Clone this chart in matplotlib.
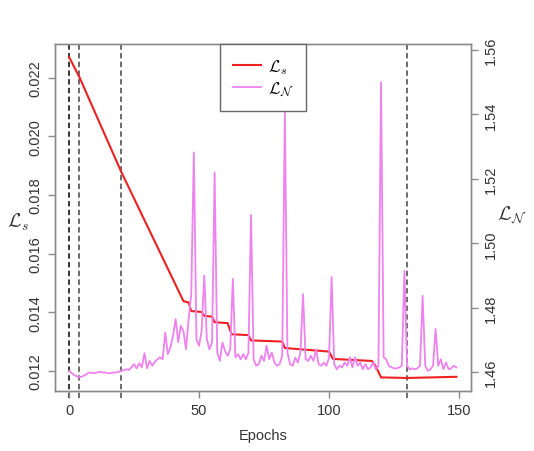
import numpy as np
import matplotlib
matplotlib.use("Agg")
import matplotlib.pyplot as plt

plt.rcParams["font.family"] = ["Liberation Sans", "DejaVu Sans"]
plt.rcParams["mathtext.fontset"] = "cm"

# L_s: knots (epoch, value)
ls_epochs = [0, 4, 20, 44, 46, 47, 51, 52, 55, 56, 61, 62.5, 69, 70, 82, 83,
             100, 101.5, 116.5, 118, 120, 130, 149]
ls_values = [0.02270, 0.02201, 0.01880, 0.01438, 0.01433, 0.01404, 0.01401,
             0.01388, 0.01385, 0.01366, 0.01363, 0.01325, 0.01322, 0.01304,
             0.01300, 0.01278, 0.01266, 0.01241, 0.01234, 0.01215, 0.01178,
             0.01176, 0.01180]

# L_N: one value per epoch 0..149
ln_values = [
    1.4604, 1.4598, 1.4591, 1.4587, 1.4584, 1.4587, 1.4590, 1.4596, 1.4599, 1.4598,
    1.4597, 1.4600, 1.4601, 1.4599, 1.4599, 1.4597, 1.4597, 1.4599, 1.4599, 1.4601,
    1.4604, 1.4606, 1.4609, 1.4607, 1.4615, 1.4625, 1.4612, 1.4628, 1.4615, 1.4659,
    1.4612, 1.4635, 1.4620, 1.4632, 1.4640, 1.4646, 1.4640, 1.4723, 1.4656, 1.4677,
    1.4713, 1.4765, 1.4693, 1.4744, 1.4728, 1.4671, 1.4765, 1.4842, 1.5282, 1.4702,
    1.4682, 1.4728, 1.4900, 1.4702, 1.4671, 1.4692, 1.5220, 1.4661, 1.4635, 1.4692,
    1.4666, 1.4651, 1.4671, 1.4890, 1.4646, 1.4656, 1.4640, 1.4656, 1.4640, 1.4660,
    1.5088, 1.4640, 1.4620, 1.4625, 1.4651, 1.4635, 1.4682, 1.4640, 1.4661, 1.4630,
    1.4620, 1.4625, 1.4651, 1.5410, 1.4661, 1.4625, 1.4620, 1.4645, 1.4630, 1.4661,
    1.4842, 1.4640, 1.4635, 1.4651, 1.4635, 1.4671, 1.4625, 1.4620, 1.4630, 1.4620,
    1.4645, 1.4895, 1.4625, 1.4609, 1.4620, 1.4615, 1.4630, 1.4620, 1.4646, 1.4615,
    1.4646, 1.4620, 1.4630, 1.4609, 1.4625, 1.4609, 1.4615, 1.4630, 1.4609, 1.4620,
    1.5500, 1.4646, 1.4640, 1.4620, 1.4615, 1.4612, 1.4612, 1.4615, 1.4620, 1.4915,
    1.4620, 1.4609, 1.4612, 1.4609, 1.4612, 1.4620, 1.4837, 1.4620, 1.4604, 1.4609,
    1.4620, 1.4734, 1.4620, 1.4640, 1.4609, 1.4630, 1.4609, 1.4612, 1.4620, 1.4615,
]
ln_epochs = list(range(len(ln_values)))

vlines = [0, 4, 20, 130]
x_ticks = [0, 50, 100, 150]
left_ticks = [0.012, 0.014, 0.016, 0.018, 0.020, 0.022]
right_ticks = [1.46, 1.48, 1.50, 1.52, 1.54, 1.56]

frame_col = "#8a8a8a"
text_col = "#333333"

fig = plt.figure(figsize=(5.34, 4.52), dpi=100)
ax = fig.add_axes([0.103, 0.133, 0.779, 0.767])
ax2 = ax.twinx()

l1, = ax.plot(ls_epochs, ls_values, color="#ee2020", lw=1.5, label=r"$\mathcal{L}_s$")
l2, = ax2.plot(ln_epochs, ln_values, color="#ee82ee", lw=1.3, label=r"$\mathcal{L}_\mathcal{N}$")

for i, v in enumerate(vlines):
    ax.axvline(v, ymin=-0.02, ymax=1, color="black" if i == 0 else "#444444",
               lw=1.1, dashes=(3.5, 2.2), clip_on=False, zorder=1)

ax.set_xlim(-5.4, 154.6)
ax.set_ylim(0.01132, 0.023135)
ax2.set_ylim(1.4542, 1.5618)

ax.set_xticks(x_ticks)
ax.set_yticks(left_ticks)
ax.set_yticklabels([f"{t:.3f}" for t in left_ticks], rotation=90, va="center")
ax2.set_yticks(right_ticks)
ax2.set_yticklabels([f"{t:.2f}" for t in right_ticks], rotation=90, va="center")

for a in (ax, ax2):
    for s in a.spines.values():
        s.set_color(frame_col)
        s.set_linewidth(1.0)
    a.tick_params(colors=frame_col, labelcolor=text_col, labelsize=10.5,
                  length=5, width=1.0, pad=4)

ax.set_xlabel("Epochs", fontsize=10.5, color=text_col, labelpad=8)
ax.text(-0.09, 0.49, r"$\mathcal{L}_s$", transform=ax.transAxes, fontsize=14,
        ha="center", va="center", color=text_col)
ax2.text(1.099, 0.51, r"$\mathcal{L}_\mathcal{N}$", transform=ax.transAxes, fontsize=14,
         ha="center", va="center", color=text_col)

leg = ax2.legend(handles=[l1, l2], loc="upper center", bbox_to_anchor=(0.5, 1.0),
                 fontsize=12, fancybox=False, framealpha=1, edgecolor="#666666",
                 handlelength=1.7, handletextpad=0.4, borderpad=0.75,
                 labelspacing=0.25, borderaxespad=0)
leg.get_frame().set_linewidth(1.0)

fig.savefig("out.png", dpi=100)
